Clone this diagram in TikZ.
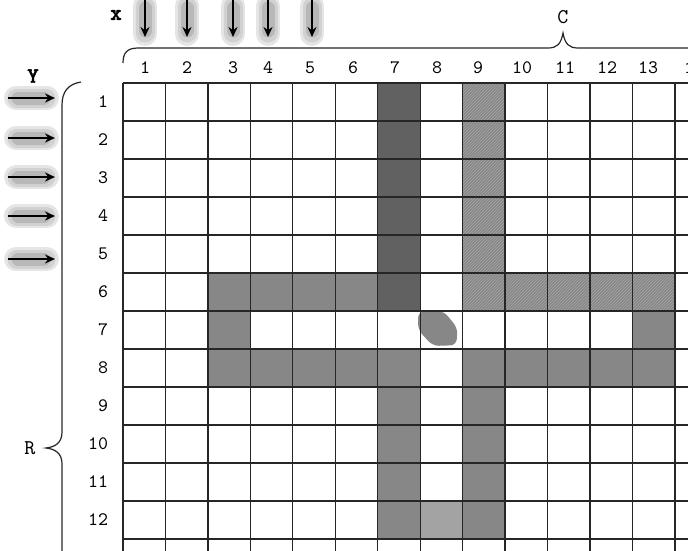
\documentclass[tikz,border=0pt]{standalone}
\usepackage{fontspec}
\setmonofont{lmmono10-regular.otf}
\newfontfamily\heavytt{lmmonolt10-bold.otf}[FakeBold=2]
\usetikzlibrary{arrows.meta,patterns}
\begin{document}
\begin{tikzpicture}[x=1pt,y=-1pt,
 lbl/.style={font=\ttfamily\fontsize{19}{19}\selectfont, inner sep=0pt},
 biglbl/.style={font=\ttfamily\fontsize{21}{21}\selectfont, inner sep=0pt},
 boldlbl/.style={font=\heavytt\fontsize{22}{22}\selectfont, inner sep=0pt},
 gridline/.style={line width=1.3pt, black!85},
 haloa/.style={line width=24pt, line cap=round, black!10},
 halob/.style={line width=19pt, line cap=round, black!18},
 haloc/.style={line width=13pt, line cap=round, black!28},
 arr/.style={line width=2.2pt, black, -{Stealth[length=10pt,width=9pt]}},
 pdark/.style={fill=black!62},
 pmid/.style={fill=black!47},
 plight/.style={fill=black!36},
 hatch/.style={pattern=north east lines, pattern color=black!35},
 bracestyle/.style={line width=1.2pt, black!85},
]
\useasboundingbox (0,0) rectangle (688,550);

% ---------- grid with shading ----------
\begin{scope}[shift={(123pt,-83pt)}, x=42.46pt, y=-38pt]
  \fill[pdark] (6,0) rectangle (7,6);
  \fill[pmid] (2,5) rectangle (6,6);
  \fill[pmid] (2,6) rectangle (3,7);
  \fill[pmid] (2,7) rectangle (7,8);
  \fill[pmid] (6,8) rectangle (7,12);
  \fill[plight] (7,11) rectangle (8,12);
  \fill[pmid] (8,0) rectangle (9,6);
  \fill[hatch] (8,0) rectangle (9,6);
  \fill[pmid] (9,5) rectangle (13,6);
  \fill[hatch] (9,5) rectangle (13,6);
  \fill[pmid] (12,6) rectangle (13,7);
  \fill[pmid] (8,7) rectangle (13,8);
  \fill[pmid] (8,8) rectangle (9,12);
  \fill[pmid, rounded corners=6pt] (6.95,6.02) -- (7.55,6.0) -- (7.88,6.45) -- (7.85,6.9) -- (7.3,6.92) -- (6.95,6.5) -- cycle;
  \foreach \i in {0,...,13} \draw[gridline] (\i,0) -- (\i,12.4);
  \foreach \j in {0,...,12} \draw[gridline] (0,\j) -- (13.4,\j);
\end{scope}

% ---------- column labels ----------
\foreach \x [count=\n] in {145,187,233,268,310,353,395,437,478,522,565,607,648,694}
  \node[lbl] (col\n) at (\x,68) {\n};

% ---------- row labels ----------
\foreach \n in {1,...,9}
  \node[lbl] (row\n) at (103,{102+38*(\n-1)}) {\n};
\foreach \n in {10,11,12}
  \node[lbl] (row\n) at (98,{102+38*(\n-1)}) {\n};

% ---------- braces ----------
\draw[bracestyle] (123,63) .. controls (123,53) and (127,48) .. (138,48) -- (548,48)
  .. controls (557,48) and (561,44) .. (563,33)
  .. controls (565,44) and (569,48) .. (578,48) -- (692,48);
\draw[bracestyle] (81,82) .. controls (68,84) and (62,92) .. (62,105) -- (62,432)
  .. controls (62,443) and (55,447) .. (46,448)
  .. controls (55,449) and (62,453) .. (62,464) -- (62,552);
\node[biglbl] (C) at (563,17) {C};
\node[biglbl] (R) at (30,448) {R};

% ---------- axis names ----------
\node[boldlbl] (xname) at (116,15) {x};
\node[boldlbl] (yname) at (33,76) {Y};

% ---------- down arrows ----------
\foreach \x [count=\k] in {145,187,233,268,312} {
  \coordinate (ds\k) at (\x,0);
  \coordinate (de\k) at (\x,37);
  \draw[haloa] (\x,6) -- (\x,34);
  \draw[halob] (\x,7) -- (\x,33);
  \draw[haloc] (\x,8) -- (\x,31);
  \draw[arr] (ds\k) -- (de\k);
}
% ---------- right arrows ----------
\foreach \y [count=\k] in {98,138,177,216,259} {
  \coordinate (rs\k) at (8,\y);
  \coordinate (re\k) at (55,\y);
  \draw[haloa] (16,\y) -- (47,\y);
  \draw[halob] (17,\y) -- (46,\y);
  \draw[haloc] (18,\y) -- (44,\y);
  \draw[arr] (rs\k) -- (re\k);
}
\end{tikzpicture}
\end{document}
